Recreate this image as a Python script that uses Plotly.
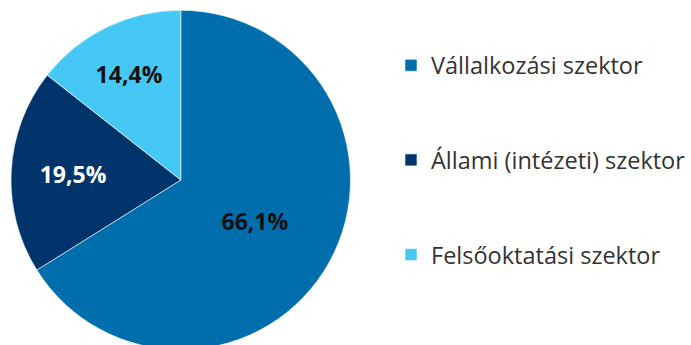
import plotly.graph_objects as go

# R&D expenditure by performing sector (share, %)
sectors = ["Vállalkozási szektor", "Állami (intézeti) szektor", "Felsőoktatási szektor"]
shares = [66.1, 19.5, 14.4]
colors = ["#006EAD", "#00346A", "#45C8F5"]
label_colors = ["#111111", "#FFFFFF", "#111111"]

# pad legend entries so that rows are spread out vertically
legend_names = [f" <br>{s}<br> " for s in sectors]

fig = go.Figure(
    go.Pie(
        labels=legend_names,
        values=shares,
        sort=False,
        direction="clockwise",
        rotation=0,
        marker=dict(colors=colors, line=dict(color="#FFFFFF", width=0.6)),
        texttemplate="<b>%{value:.1f}%</b>",
        textposition="inside",
        insidetextorientation="horizontal",
        textfont=dict(family="Open Sans", size=23, color=label_colors),
        hoverinfo="skip",
        domain=dict(x=[0, 0.5], y=[0, 1]),
    )
)

fig.update_layout(
    width=691,
    height=350,
    margin=dict(l=11, r=0, t=10, b=0),
    separators=", ",
    paper_bgcolor="white",
    plot_bgcolor="white",
    showlegend=True,
    legend=dict(
        x=0.56,
        xanchor="left",
        y=0.559,
        yanchor="middle",
        font=dict(family="Open Sans", size=23.5, color="#333333"),
        bgcolor="rgba(0,0,0,0)",
    ),
)

fig.write_html(
    "out.html",
    post_script="document.body.style.overflow='hidden';document.documentElement.style.overflow='hidden';document.body.style.margin='0';",
)
